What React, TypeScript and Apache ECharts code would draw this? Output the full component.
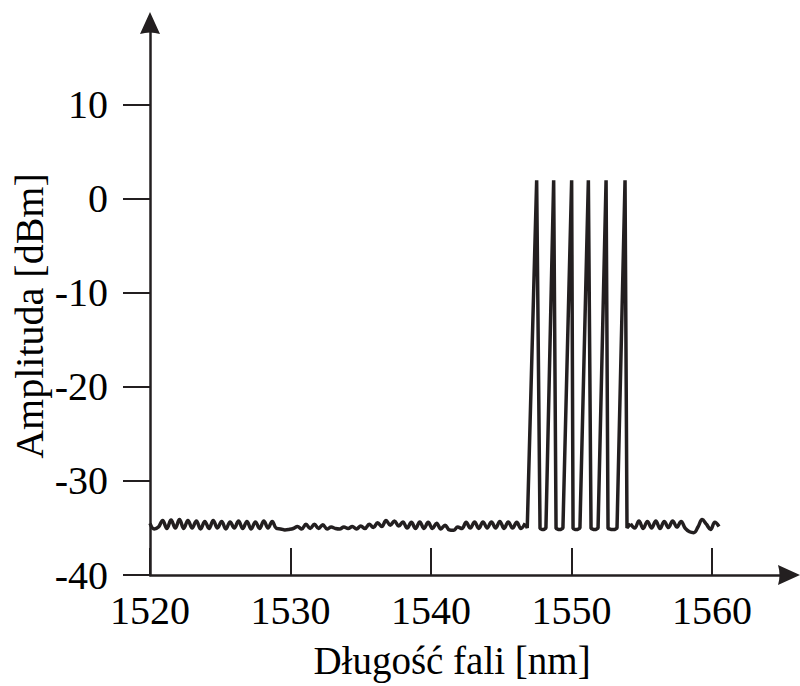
import React, { useEffect, useRef } from "react";
import * as echarts from "echarts";

// Tick labels
const X_TICKS = [1520, 1530, 1540, 1550, 1560];
const Y_TICKS = [-40, -30, -20, -10, 0, 10];
const X_TITLE = "Długość fali [nm]";
const Y_TITLE = "Amplituda [dBm]";

// Noise floor left of the channels: sampled every 0.3 nm from 1520.0 nm
const LEFT_START = 1520;
const SAMPLE_STEP = 0.3;
const NOISE_LEFT = [
  -34.5, -35.1, -34.9, -34.2, -35.05, -34.15, -35.0, -34.1, -35.05, -34.2,
  -35.0, -34.25, -35.1, -34.3, -35.05, -34.2, -35.0, -34.3, -35.1, -34.35,
  -35.0, -34.25, -35.05, -34.3, -35.1, -34.35, -35.05, -34.25, -35.0, -34.3,
  -35.05, -35.1, -35.2, -35.15, -35.05, -34.85, -35.1, -34.6, -35.05, -34.6,
  -35.05, -34.65, -35.1, -34.9, -35.05, -35.1, -34.9, -35.05, -34.85, -35.1,
  -34.8, -35.05, -34.6, -34.95, -34.45, -34.85, -34.2, -34.7, -34.25, -34.8,
  -34.35, -35.0, -34.4, -35.05, -34.35, -35.05, -34.4, -35.05, -34.5, -35.1,
  -34.7, -35.2, -35.25, -34.9, -35.05, -34.4, -35.0, -34.35, -35.05, -34.35,
  -35.0, -34.35, -35.0, -34.3, -35.05, -34.35, -35.0, -34.4, -35.05, -34.5,
];

// Six WDM channels: [wavelength nm, amplitude dBm]
const CHANNELS: [number, number][] = [
  [1546.85, -35.0],
  [1547.52, 2.0], [1547.76, -35.05], [1547.9, -35.15], [1548.05, -35.15], [1548.18, -35.0],
  [1548.73, 2.0], [1548.9, -35.05], [1549.05, -35.15], [1549.25, -35.15], [1549.39, -35.0],
  [1550.01, 2.0], [1550.11, -35.05], [1550.25, -35.15], [1550.45, -35.15], [1550.6, -35.0],
  [1551.2, 2.0], [1551.39, -35.05], [1551.55, -35.15], [1551.75, -35.15], [1551.89, -35.0],
  [1552.46, 2.0], [1552.6, -35.05], [1552.8, -35.15], [1553.1, -35.15], [1553.24, -35.0],
  [1553.81, 2.0], [1553.95, -35.0],
];

// Noise floor right of the channels: sampled every 0.3 nm from 1554.2 nm
const RIGHT_START = 1554.2;
const NOISE_RIGHT = [
  -34.55, -35.0, -34.25, -35.05, -34.3, -35.0, -34.25, -35.05, -34.3, -34.95,
  -34.25, -34.9, -34.3, -35.05, -35.4, -35.5, -34.9, -34.1, -34.6, -35.15,
  -34.4, -34.85,
];

const INK = "#231f20";
const FONT = '"Liberation Serif", "Times New Roman", serif';

export default function App() {
  const ref = useRef<HTMLDivElement>(null);

  useEffect(() => {
    if (!ref.current) return;
    const chart = echarts.init(ref.current, null, { renderer: "svg" });

    const left: [number, number][] = NOISE_LEFT.map(
      (v, i) => [+(LEFT_START + i * SAMPLE_STEP).toFixed(2), v] as [number, number]
    );
    const right: [number, number][] = NOISE_RIGHT.map(
      (v, i) => [+(RIGHT_START + i * SAMPLE_STEP).toFixed(2), v] as [number, number]
    );
    const middle: [number, number][] = [left[left.length - 1], ...CHANNELS, right[0]];

    const arrow = "path://M10 0 L20 22 Q10 19 0 22 Z";
    const lineStyle = { color: INK, width: 3.5, join: "bevel" as const };
    const base = {
      type: "line" as const,
      showSymbol: false,
      symbol: "none",
      clip: false,
      lineStyle,
    };

    chart.setOption({
      animation: false,
      backgroundColor: "#ffffff",
      grid: {
        left: 150,
        right: 11,
        top: 23,
        bottom: 111,
        containLabel: false,
        outerBoundsMode: "none",
      },
      xAxis: {
        type: "value",
        min: 1520,
        max: 1565.48,
        axisLine: {
          show: true,
          onZero: false,
          symbol: ["none", arrow],
          symbolSize: [20, 22],
          lineStyle: { color: INK, width: 2.5 },
        },
        axisTick: {
          show: true,
          inside: true,
          length: 27,
          customValues: X_TICKS,
          lineStyle: { color: INK, width: 2 },
        },
        axisLabel: {
          show: true,
          customValues: X_TICKS,
          formatter: (v: number) => String(v),
          margin: 35,
          verticalAlign: "middle",
          fontFamily: FONT,
          fontSize: 40,
          color: "#000",
        },
        splitLine: { show: false },
      },
      yAxis: {
        type: "value",
        min: -40,
        max: 18.72,
        axisLine: {
          show: true,
          onZero: false,
          symbol: ["none", arrow],
          symbolSize: [20, 22],
          lineStyle: { color: INK, width: 2.5 },
        },
        axisTick: {
          show: true,
          inside: false,
          length: 27,
          customValues: Y_TICKS,
          lineStyle: { color: INK, width: 2 },
        },
        axisLabel: {
          show: true,
          customValues: Y_TICKS,
          formatter: (v: number) => String(v),
          margin: 42,
          align: "right",
          verticalAlign: "middle",
          padding: [0, 0, 26, 0],
          fontFamily: FONT,
          fontSize: 40,
          color: "#000",
        },
        splitLine: { show: false },
      },
      graphic: [
        {
          type: "text",
          x: 452,
          y: 660,
          style: {
            text: X_TITLE,
            font: `39px ${FONT}`,
            fill: "#000",
            align: "center",
            verticalAlign: "middle",
          },
        },
        {
          type: "text",
          x: 29,
          y: 316,
          rotation: Math.PI / 2,
          style: {
            text: Y_TITLE,
            font: `40px ${FONT}`,
            fill: "#000",
            align: "center",
            verticalAlign: "middle",
          },
        },
      ],
      series: [
        { ...base, data: left, smooth: 0.4 },
        { ...base, data: middle, smooth: false },
        { ...base, data: right, smooth: 0.4 },
      ],
    });

    return () => chart.dispose();
  }, []);

  return (
    <div
      ref={ref}
      style={{ position: "fixed", left: 0, top: 0, width: 800, height: 686, background: "#fff" }}
    />
  );
}
